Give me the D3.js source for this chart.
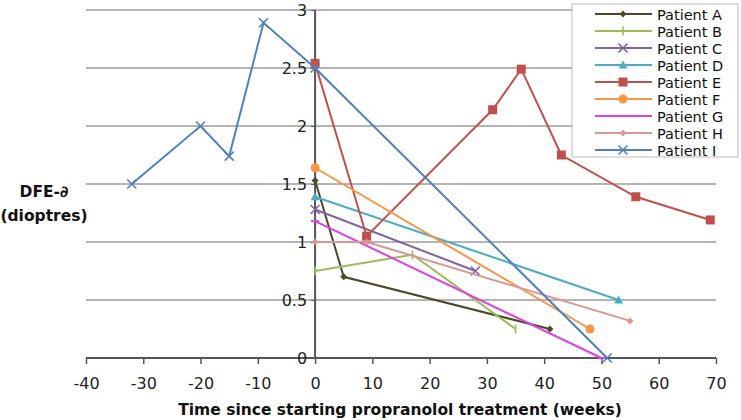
<!DOCTYPE html>
<html><head><meta charset="utf-8">
<script src="https://cdn.jsdelivr.net/npm/d3@7"></script>
<style>body{margin:0;background:#fff}text{font-family:"DejaVu Sans",sans-serif}</style>
</head><body><svg id="c" width="741" height="420"></svg>
<script>
const patients = ["Patient A","Patient B","Patient C","Patient D","Patient E","Patient F","Patient G","Patient H","Patient I"];
const weeksA = [0,5,41],            dfeA = [1.53,0.70,0.25];
const weeksB = [0,17,35],           dfeB = [0.75,0.89,0.25];
const weeksC = [0,28],              dfeC = [1.28,0.75];
const weeksD = [0,53],              dfeD = [1.39,0.50];
const weeksE = [0,9,31,36,43,56,69],dfeE = [2.54,1.05,2.14,2.49,1.75,1.39,1.19];
const weeksF = [0,48],              dfeF = [1.64,0.25];
const weeksG = [0,50],              dfeG = [1.18,0.00];
const weeksH = [0,9,55],            dfeH = [1.00,1.00,0.32];
const weeksI = [-32,-20,-15,-9,0,51], dfeI = [1.50,2.00,1.74,2.89,2.50,0.00];
const xTicks = [-40,-30,-20,-10,0,10,20,30,40,50,60,70];
const yTicks = [0,0.5,1,1.5,2,2.5,3];
const colors = ["#4a4a28","#9bbb59","#8064a2","#4bacc6","#c0504d","#f79646","#e040e0","#d99694","#4f81bd"];
const markers = ["diamond","plus","x","triangle","square","circle","dash","diamond","x"];

const weeks = [weeksA,weeksB,weeksC,weeksD,weeksE,weeksF,weeksG,weeksH,weeksI];
const dfes = [dfeA,dfeB,dfeC,dfeD,dfeE,dfeF,dfeG,dfeH,dfeI];
const series = patients.map((p,i)=>({name:p,color:colors[i],marker:markers[i],
  pts:weeks[i].map((w,j)=>({x:w,y:dfes[i][j]}))}));

const svg = d3.select("#c");
const x = d3.scaleLinear().domain([-40,70]).range([86,716]);
const y = d3.scaleLinear().domain([0,3]).range([358,10]);

// gridlines
svg.append("g").selectAll("line").data(yTicks.filter(d=>d>0)).join("line")
  .attr("x1",x(-40)).attr("x2",x(70)).attr("y1",d=>y(d)).attr("y2",d=>y(d))
  .attr("stroke","#b4b4b4").attr("stroke-width",2);

// x axis
const xa = svg.append("g").attr("transform",`translate(0,${y(0)})`)
  .call(d3.axisBottom(x).tickValues(xTicks).tickSize(6).tickPadding(14).tickFormat(d=>String(d)));
xa.select(".domain").attr("stroke","#555").attr("stroke-width",2).attr("d",`M${x(-40)},0H${x(70)}`);
xa.selectAll(".tick line").attr("stroke","#555").attr("stroke-width",1.5);
xa.selectAll("text").attr("font-size",16).attr("fill","#222").attr("font-family","DejaVu Sans");

// y axis at x=0
const ya = svg.append("g").attr("transform",`translate(${x(0)},0)`)
  .call(d3.axisLeft(y).tickValues(yTicks).tickSize(4).tickPadding(4).tickFormat(d=>String(d)));
ya.select(".domain").attr("stroke","#555").attr("stroke-width",2).attr("d",`M0,${y(3)}V${y(0)}`);
ya.selectAll(".tick line").attr("stroke","#555");
ya.selectAll("text").attr("font-size",16).attr("fill","#222").attr("font-family","DejaVu Sans");

function drawMarker(g, type, color, size){
  const s = size;
  if(type==="diamond") g.append("path").attr("d",`M0,${-s}L${s},0L0,${s}L${-s},0Z`).attr("fill",color);
  else if(type==="square") g.append("rect").attr("x",-s).attr("y",-s).attr("width",2*s).attr("height",2*s).attr("fill",color);
  else if(type==="circle") g.append("circle").attr("r",s).attr("fill",color);
  else if(type==="triangle") g.append("path").attr("d",`M0,${-s}L${s},${s*0.8}L${-s},${s*0.8}Z`).attr("fill",color);
  else if(type==="x") g.append("path").attr("d",`M${-s},${-s}L${s},${s}M${-s},${s}L${s},${-s}`).attr("stroke",color).attr("stroke-width",1.6);
  else if(type==="plus") g.append("path").attr("d",`M0,${-s}V${s}`).attr("stroke",color).attr("stroke-width",1.6);
  else if(type==="dash") g.append("path").attr("d",`M${-s},0H${s}`).attr("stroke",color).attr("stroke-width",2);
}
const msize = {diamond:3.5,square:4.5,circle:4.5,triangle:4.5,x:4.5,plus:4.5,dash:4};

const line = d3.line().x(d=>x(d.x)).y(d=>y(d.y));
series.forEach(s=>{
  const g = svg.append("g");
  g.append("path").attr("d",line(s.pts)).attr("fill","none").attr("stroke",s.color).attr("stroke-width",2);
  s.pts.forEach(p=>{
    const m = g.append("g").attr("transform",`translate(${x(p.x)},${y(p.y)})`);
    drawMarker(m,s.marker,s.color,msize[s.marker]);
  });
});

// legend
const lg = svg.append("g");
lg.append("rect").attr("x",572).attr("y",4).attr("width",166).attr("height",153)
  .attr("fill","#fff").attr("stroke","#bbb").attr("stroke-width",1);
series.forEach((s,i)=>{
  const yy = 14 + i*17;
  lg.append("line").attr("x1",595).attr("x2",652).attr("y1",yy).attr("y2",yy).attr("stroke",s.color).attr("stroke-width",2);
  const m = lg.append("g").attr("transform",`translate(623,${yy})`);
  drawMarker(m,s.marker,s.color,msize[s.marker]);
  lg.append("text").attr("x",657).attr("y",yy+5.5).attr("font-size",14.5).attr("fill","#111").text(s.name);
});

// titles
svg.append("text").attr("x",400).attr("y",415).attr("text-anchor","middle")
  .attr("font-size",15.5).attr("font-weight","bold").attr("fill","#111")
  .text("Time since starting propranolol treatment (weeks)");
svg.append("text").attr("x",44).attr("y",197).attr("text-anchor","middle")
  .attr("font-size",15.5).attr("font-weight","bold").attr("fill","#111").text("DFE-∂");
svg.append("text").attr("x",44).attr("y",221).attr("text-anchor","middle")
  .attr("font-size",15.5).attr("font-weight","bold").attr("fill","#111").text("(dioptres)");
</script></body></html>
